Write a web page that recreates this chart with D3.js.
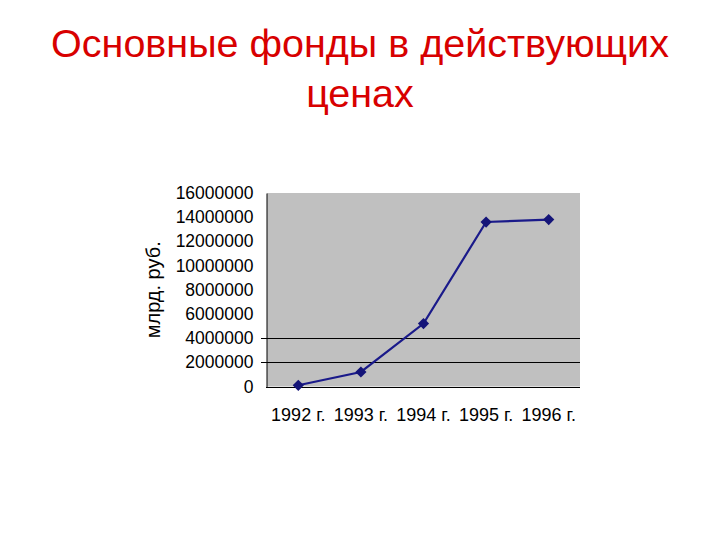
<!DOCTYPE html>
<html><head><meta charset="utf-8">
<script src="https://cdn.jsdelivr.net/npm/d3@7"></script>
<style>body{margin:0;background:#fff}</style>
</head><body>
<svg id="chart" width="720" height="540"></svg>
<script>
const categories = ["1992 г.", "1993 г.", "1994 г.", "1995 г.", "1996 г."];
const values = [100000, 1200000, 5200000, 13600000, 13800000];
const yTicks = [0, 2000000, 4000000, 6000000, 8000000, 10000000, 12000000, 14000000, 16000000];
const gridValues = [2000000, 4000000];
const titleLines = ["Основные фонды в действующих", "ценах"];
const yLabel = "млрд. руб.";

const svg = d3.select("#chart");
const font = "Arial, 'Liberation Sans', sans-serif";
const m = {left: 267, right: 580, top: 193, bottom: 386.5};

svg.append("g").selectAll("text").data(titleLines).join("text")
  .attr("x", 360).attr("y", (d, i) => 57 + i * 50)
  .attr("text-anchor", "middle").attr("fill", "#d80000")
  .style("font-family", font).style("font-size", "39.5px").text(d => d);

const x = d3.scaleBand().domain(categories).range([m.left, m.right]);
const y = d3.scaleLinear().domain([0, 16000000]).range([m.bottom, m.top]);

svg.append("rect").attr("x", m.left).attr("y", m.top)
  .attr("width", m.right - m.left).attr("height", m.bottom - m.top).attr("fill", "#c0c0c0");

svg.append("g").selectAll("line").data(gridValues).join("line")
  .attr("x1", m.left - 6).attr("x2", m.right)
  .attr("y1", d => Math.round(y(d)) + 0.5).attr("y2", d => Math.round(y(d)) + 0.5)
  .attr("stroke", "#000").attr("stroke-width", 1);

// y axis
const yAxis = svg.append("g").attr("transform", `translate(${m.left - 0.5},0)`)
  .call(d3.axisLeft(y).tickValues(yTicks).tickSize(0).tickPadding(13).tickFormat(d3.format("d")));
yAxis.select(".domain").attr("stroke", "#000");
yAxis.selectAll("text").style("font-family", font).style("font-size", "17.5px").attr("fill", "#000");

// bottom line
svg.append("line").attr("x1", m.left - 1).attr("x2", m.right)
  .attr("y1", Math.round(y(0)) + 0.5).attr("y2", Math.round(y(0)) + 0.5).attr("stroke", "#000");

// x axis labels
const xAxis = svg.append("g").attr("transform", `translate(0,${m.bottom})`)
  .call(d3.axisBottom(x).tickSize(0).tickPadding(22));
xAxis.select(".domain").remove();
xAxis.selectAll("text").style("font-family", font).style("font-size", "18px").attr("fill", "#000");

svg.append("text").attr("transform", `translate(160,${(m.top + m.bottom) / 2}) rotate(-90)`)
  .attr("text-anchor", "middle").style("font-family", font).style("font-size", "20px")
  .attr("fill", "#000").text(yLabel);

const cx = d => x(d) + x.bandwidth() / 2;
svg.append("path").datum(values.map((v, i) => [categories[i], v]))
  .attr("fill", "none").attr("stroke", "#1a1a8a").attr("stroke-width", 2.2)
  .attr("d", d3.line().x(d => cx(d[0])).y(d => y(d[1])));

svg.append("g").selectAll("path").data(values).join("path")
  .attr("transform", (d, i) => `translate(${cx(categories[i])},${y(d)})`)
  .attr("d", d3.symbol(d3.symbolDiamond2, 80))
  .attr("fill", "#141478");
</script>
</body></html>
